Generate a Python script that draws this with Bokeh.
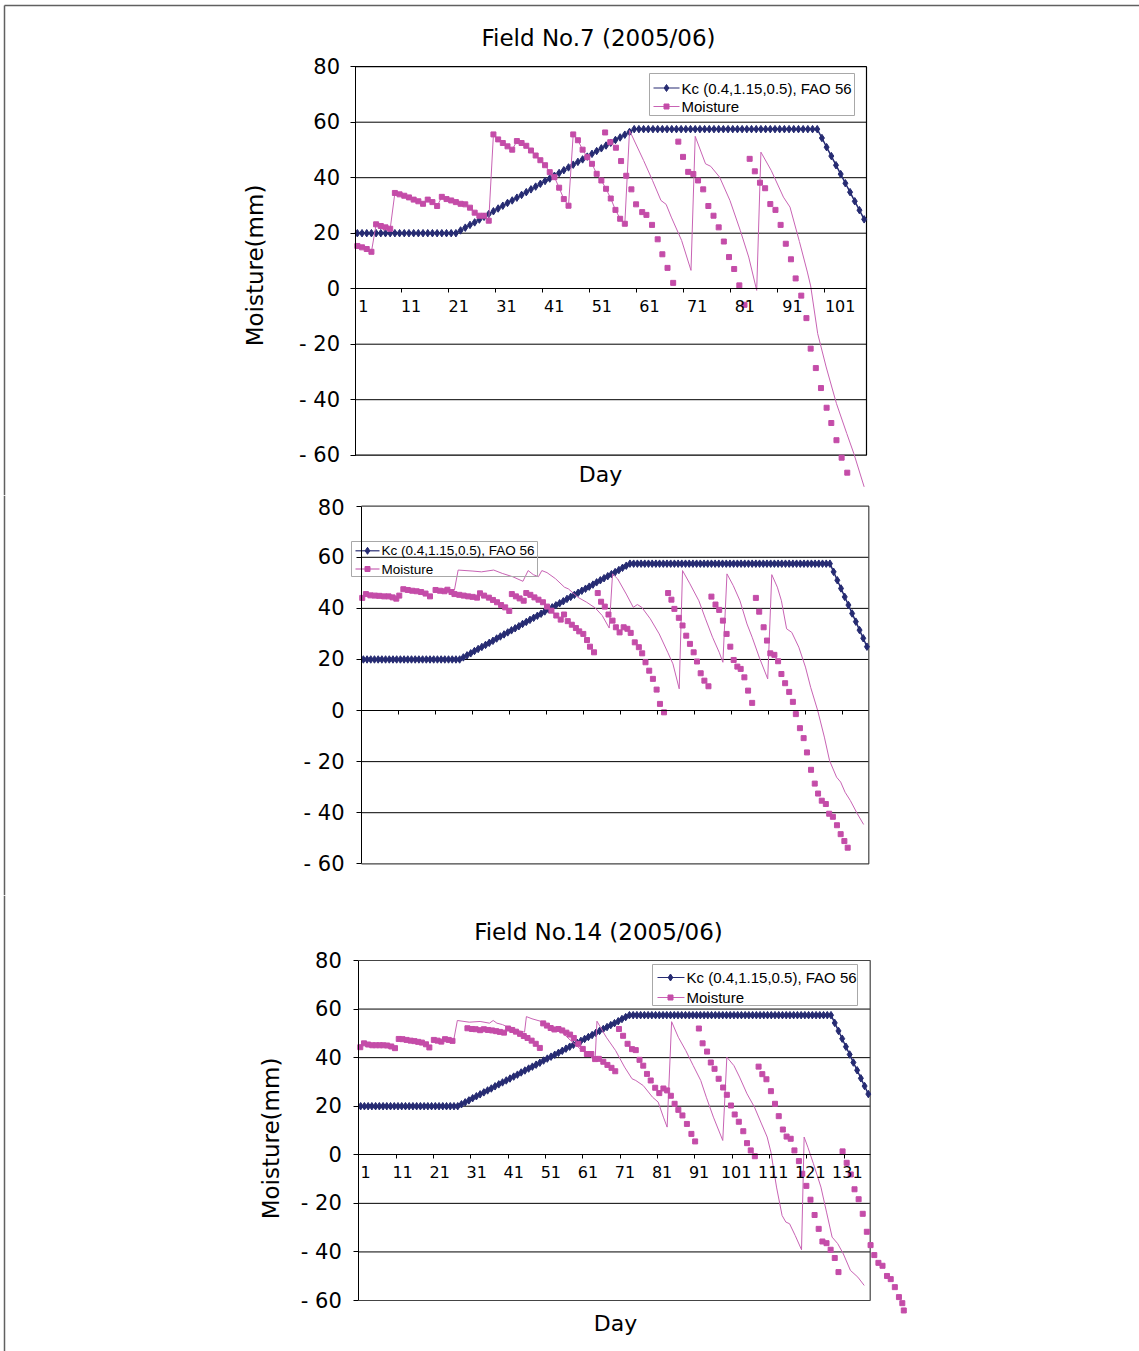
from bokeh.plotting import figure
from bokeh.layouts import column
from bokeh.models import LinearAxis, FixedTicker, Range1d
from bokeh.core.properties import value
from bokeh.embed import file_html
from bokeh.resources import INLINE

# ---------------- data ----------------
y_ticks = [-60, -40, -20, 0, 20, 40, 60, 80]
y_tick_labels = ["- 60", "- 40", "- 20", "0", "20", "40", "60", "80"]
grid_values = [60, 40, 20, -20, -40]
x_labels_field7 = [1, 11, 21, 31, 41, 51, 61, 71, 81, 91, 101]
x_labels_field14 = [1, 11, 21, 31, 41, 51, 61, 71, 81, 91, 101, 111, 121, 131]
legend_labels = ["Kc (0.4,1.15,0.5), FAO 56", "Moisture"]
title_field7 = "Field No.7 (2005/06)"
title_field14 = "Field No.14 (2005/06)"
y_title = "Moisture(mm)"
x_title = "Day"

kc_field7 = [
    20.0, 20.0, 20.0, 20.0, 20.0, 20.0, 20.0, 20.0, 20.0, 20.0,
    20.0, 20.0, 20.0, 20.0, 20.0, 20.0, 20.0, 20.0, 20.0, 20.0,
    20.0, 20.0, 21.0, 22.0, 23.0, 23.9, 24.9, 25.9, 26.9, 27.9,
    28.9, 29.9, 30.9, 31.8, 32.8, 33.8, 34.8, 35.8, 36.8, 37.8,
    38.8, 39.7, 40.7, 41.7, 42.7, 43.7, 44.7, 45.7, 46.6, 47.6,
    48.6, 49.6, 50.6, 51.6, 52.6, 53.6, 54.5, 55.5, 56.5, 57.5,
    57.5, 57.5, 57.5, 57.5, 57.5, 57.5, 57.5, 57.5, 57.5, 57.5,
    57.5, 57.5, 57.5, 57.5, 57.5, 57.5, 57.5, 57.5, 57.5, 57.5,
    57.5, 57.5, 57.5, 57.5, 57.5, 57.5, 57.5, 57.5, 57.5, 57.5,
    57.5, 57.5, 57.5, 57.5, 57.5, 57.5, 57.5, 57.5, 57.5, 54.3,
    51.0, 47.8, 44.5, 41.3, 38.0, 34.8, 31.5, 28.3, 25.0]

kc_field14 = [
    20.0, 20.0, 20.0, 20.0, 20.0, 20.0, 20.0, 20.0, 20.0, 20.0,
    20.0, 20.0, 20.0, 20.0, 20.0, 20.0, 20.0, 20.0, 20.0, 20.0,
    20.0, 20.0, 20.0, 20.0, 20.0, 20.0, 20.0, 20.8, 21.6, 22.4,
    23.3, 24.1, 24.9, 25.7, 26.5, 27.3, 28.2, 29.0, 29.8, 30.6,
    31.4, 32.2, 33.0, 33.9, 34.7, 35.5, 36.3, 37.1, 37.9, 38.8,
    39.6, 40.4, 41.2, 42.0, 42.8, 43.7, 44.5, 45.3, 46.1, 46.9,
    47.7, 48.5, 49.3, 50.2, 51.0, 51.8, 52.6, 53.4, 54.2, 55.0,
    55.9, 56.7, 57.5, 57.5, 57.5, 57.5, 57.5, 57.5, 57.5, 57.5,
    57.5, 57.5, 57.5, 57.5, 57.5, 57.5, 57.5, 57.5, 57.5, 57.5,
    57.5, 57.5, 57.5, 57.5, 57.5, 57.5, 57.5, 57.5, 57.5, 57.5,
    57.5, 57.5, 57.5, 57.5, 57.5, 57.5, 57.5, 57.5, 57.5, 57.5,
    57.5, 57.5, 57.5, 57.5, 57.5, 57.5, 57.5, 57.5, 57.5, 57.5,
    57.5, 57.5, 57.5, 57.5, 57.5, 57.5, 57.5, 54.3, 51.0, 47.8,
    44.5, 41.3, 38.0, 34.8, 31.5, 28.3, 25.0]

# Field 7: moisture, daily part (line with markers), days 1..58
f7_daily_vals = [
    15.4, 14.9, 14.3, 13.3, 23.2, 22.6, 22.1, 21.6, 34.5, 34.0,
    33.5, 32.9, 32.1, 31.5, 30.6, 32.1, 31.2, 29.8, 33.1, 32.3,
    31.8, 31.2, 30.6, 30.4, 29.2, 27.4, 26.3, 26.3, 24.5, 55.6,
    53.8, 52.5, 51.3, 50.1, 53.2, 52.5, 51.5, 49.8, 48.0, 46.3,
    44.5, 42.0, 40.2, 36.4, 32.3, 29.9, 55.6, 53.5, 50.1, 47.4,
    45.0, 41.4, 39.0, 36.0, 32.5, 28.4, 25.2, 23.4]
f7_daily_days = list(range(1, 59))
# Field 7: continuation of the thin line
f7_tail_days = [59.0, 62.0, 63.9, 65.7, 66.8, 67.9, 70.1, 72.1, 73.0, 75.2,
                76.3, 78.2, 80.4, 82.6, 84.4, 86.1, 87.0, 89.2, 91.8, 93.2,
                95.2, 96.9, 97.6, 99.1, 100.9, 103.1, 105.3, 106.8, 109.0]
f7_tail_vals = [57.0, 46.2, 39.0, 31.8, 30.4, 25.8, 17.4, 6.6, 54.9, 45.0,
                44.1, 40.2, 31.8, 21.0, 11.4, -0.6, 49.2, 42.6, 33.0, 29.4,
                17.0, 6.0, 1.0, -16.2, -28.2, -41.4, -52.2, -59.4, -71.4]
# Field 7: separate marker-only moisture points
f7_pts_days = [53.8, 54.9, 56.1, 57.2, 58.3, 59.4, 60.4, 61.7, 62.6, 63.8,
               65.0, 66.0, 67.1, 68.3, 69.4, 70.4, 71.5, 72.6, 73.6, 74.7,
               75.8, 76.9, 78.0, 79.1, 80.2, 81.3, 82.4, 83.5, 84.6, 85.7,
               86.8, 87.9, 89.0, 90.1, 91.2, 92.3, 93.4, 94.4, 95.6, 96.7,
               97.6, 98.7, 99.8, 101.0, 102.0, 103.1, 104.2, 105.4]
f7_pts_vals = [56.3, 52.8, 50.8, 46.0, 40.7, 35.8, 30.4, 27.6, 26.6, 23.0,
               17.8, 12.4, 7.5, 2.1, 53.0, 47.5, 42.1, 41.3, 39.0, 35.8,
               29.8, 26.3, 22.1, 17.0, 11.4, 7.1, 1.2, -5.8, 46.8, 42.3,
               38.2, 36.2, 30.5, 28.4, 23.0, 16.2, 10.6, 3.7, -2.5, -10.6,
               -21.6, -28.6, -35.8, -42.9, -48.4, -54.6, -60.9, -66.3]

# Middle chart: markers
mid_pts_days = [
    0.7, 1.7, 2.9, 4.1, 5.3, 6.6, 7.8, 8.9, 9.9, 10.7,
    11.8, 13.0, 14.2, 15.4, 16.6, 17.8, 19.0, 20.5, 21.7, 22.9,
    23.7, 24.8, 25.6, 26.9, 28.1, 29.3, 30.5, 31.7, 32.5, 33.6,
    34.9, 36.0, 37.1, 38.2, 39.3, 40.4,
    41.1, 42.2, 43.2, 44.3, 45.0, 46.1, 47.2, 48.3, 49.5, 50.6,
    51.8, 53.1, 54.3, 55.2, 56.2, 57.3, 58.4, 59.3, 60.4, 61.4,
    62.2, 63.3,
    64.3, 65.2, 66.2, 67.2, 68.3, 69.2, 70.2, 71.3, 72.3, 73.2,
    74.3, 75.4, 76.3, 77.2, 78.2, 79.2, 80.2, 81.1, 82.2,
    83.3, 84.2, 85.0, 86.2, 87.2, 88.2, 89.2, 90.2, 91.1, 92.1, 93.1, 94.2,
    95.0, 96.1, 97.1, 98.1, 99.1, 100.1, 101.0, 102.0, 102.9, 103.9, 104.9, 106.0,
    107.0, 107.9, 109.1, 110.0, 110.9, 112.0, 113.0, 113.9, 114.9, 116.0,
    117.0, 117.8, 118.9, 119.9, 120.8, 121.9, 122.9, 123.8, 124.8, 125.9,
    126.8, 127.8, 128.9, 129.9, 130.9, 131.8]
mid_pts_vals = [
    44.1, 45.6, 45.1, 45.0, 44.9, 44.7, 44.7, 44.3, 43.8, 45.0,
    47.5, 47.2, 46.9, 46.7, 46.4, 45.8, 44.7, 47.2, 46.9, 46.7,
    47.3, 46.4, 45.6, 45.3, 45.0, 44.7, 44.5, 44.2, 45.9, 45.0,
    44.2, 43.3, 42.4, 41.3, 40.4, 39.0,
    45.6, 44.7, 43.9, 43.0, 46.0, 45.3, 44.3, 43.4, 42.4, 40.7,
    39.1, 37.2, 35.6, 37.6, 35.0, 33.6, 32.3, 31.0, 30.0, 27.6,
    25.0, 22.8,
    46.0, 42.6, 40.7, 37.6, 35.2, 32.6, 30.6, 32.6, 32.0, 30.4,
    26.7, 24.8, 22.4, 18.9, 15.6, 12.4, 8.2, 2.6, -0.7,
    46.0, 43.4, 39.8, 36.3, 33.3, 29.3, 26.1, 22.8, 19.2, 14.6, 11.7, 9.5,
    44.6, 41.5, 39.4, 35.2, 30.0, 25.0, 19.8, 17.2, 16.3, 13.0, 7.8, 3.0,
    44.1, 38.7, 32.6, 27.4, 22.4, 21.8, 19.3, 14.3, 10.7, 7.3,
    3.4, -1.4, -6.9, -10.8, -16.4, -23.2, -28.6, -32.5, -35.3, -36.6,
    -40.4, -41.6, -44.9, -48.4, -51.1, -53.7]
# Middle chart: thin line
mid_line_days = [
    25.6, 26.6, 30.6, 32.9, 36.2, 38.5, 41.3, 44.1, 45.5, 46.9,
    48.3, 49.2, 50.6, 52.9, 55.3, 56.4, 59.0, 61.3, 63.6, 65.5,
    67.4, 68.3, 69.7, 72.0, 73.9, 75.0, 76.2, 78.5, 80.9, 83.2,
    84.6, 86.3, 87.2, 89.2, 91.6, 93.4, 95.3, 97.1, 98.1, 99.2,
    100.9, 102.7, 104.6, 106.0, 107.9, 110.2, 111.3, 112.8, 113.9, 115.3,
    116.7, 118.6, 120.4, 121.8, 123.7, 125.5, 126.9, 128.8, 129.9, 131.1,
    132.5, 134.4, 136.1]
mid_line_vals = [
    47.2, 55.0, 54.6, 54.3, 55.0, 53.7, 52.4, 50.6, 54.8, 53.2,
    52.4, 54.8, 54.0, 51.6, 48.3, 47.6, 44.3, 42.4, 40.2, 37.2,
    32.3, 53.5, 51.5, 45.6, 40.4, 41.5, 40.4, 35.9, 30.0, 22.8,
    18.3, 8.5, 54.8, 49.6, 43.0, 35.9, 28.7, 22.8, 18.9, 53.5,
    48.9, 43.0, 33.9, 28.7, 20.9, 12.4, 53.2, 48.3, 43.0, 32.0,
    30.6, 24.8, 17.0, 9.1, 0.0, -10.4, -19.6, -26.1, -28.0, -32.0,
    -35.2, -40.4, -44.6]

# Field 14: markers
f14_pts_days = [
    0.9, 1.9, 3.0, 4.1, 5.1, 6.1, 7.0, 8.1, 9.2, 10.2,
    11.2, 12.2, 13.3, 14.4, 15.4, 16.4, 17.4, 18.5, 19.4, 20.6,
    21.6, 22.6, 23.6, 24.6, 25.6,
    29.6, 30.8, 31.8, 33.0, 34.0, 35.1, 36.2, 37.3, 38.3, 39.4,
    40.5, 41.6, 42.6, 43.7, 44.7, 45.7, 46.8, 47.9, 49.0,
    49.9, 50.9, 51.9, 52.9, 54.0, 55.0, 56.1, 57.1, 58.1, 59.3,
    60.5, 61.6, 62.8, 63.8, 64.8, 66.0, 67.1, 68.2, 69.2,
    70.2, 71.3, 72.5, 73.7, 74.7, 75.7, 76.7, 77.7, 78.7, 79.9,
    81.0, 82.1, 83.1, 84.1, 85.1, 86.1, 87.2, 88.4, 89.6, 90.6,
    91.6, 92.6, 93.8, 94.8, 95.8, 96.9, 98.1, 99.1, 100.2, 101.2,
    102.3, 103.5, 104.5, 105.5, 106.6,
    107.6, 108.6, 109.7, 110.9, 112.0, 113.0, 114.1, 115.1, 116.2, 117.2,
    118.4, 119.3, 120.4, 121.5, 122.6, 123.7, 124.7, 125.8, 126.9, 128.0, 129.0,
    130.1, 131.2, 132.3, 133.3, 134.4, 135.5, 136.6, 137.6, 138.6, 139.7,
    140.8, 142.0, 143.0, 144.1, 145.2, 146.1, 146.5]
f14_pts_vals = [
    44.3, 45.9, 45.4, 45.1, 45.1, 45.1, 45.1, 45.0, 44.6, 43.9,
    47.7, 47.6, 47.3, 47.0, 46.8, 46.5, 46.2, 45.5, 44.2, 47.3,
    47.0, 46.6, 47.6, 47.3, 46.9,
    52.1, 51.8, 51.7, 51.3, 51.7, 51.4, 51.2, 50.9, 50.6, 50.3,
    52.0, 51.4, 50.7, 49.8, 48.9, 48.1, 47.0, 45.7, 44.0,
    54.1, 53.2, 52.2, 51.6, 51.8, 51.2, 50.3, 49.5, 48.1, 45.7,
    43.6, 41.5, 41.5, 39.4, 39.5, 38.3, 37.0, 35.8, 34.4,
    51.8, 49.0, 45.7, 43.5, 43.1, 39.1, 36.7, 33.3, 30.6, 27.6,
    25.4, 27.3, 26.5, 24.3, 21.0, 18.5, 16.2, 12.7, 8.6, 5.5,
    52.0, 45.9, 42.5, 38.0, 35.4, 31.3, 27.7, 24.7, 20.3, 16.6,
    13.6, 9.7, 4.8, 1.8, -0.6,
    36.3, 33.2, 31.1, 26.2, 21.0, 15.9, 10.4, 7.5, 6.6, 1.8,
    -2.6, -7.8, -12.8, -18.5, -24.8, -30.5, -35.7, -36.4, -39.1, -42.5, -48.3,
    1.4, -3.3, -8.1, -14.2, -18.3, -24.3, -31.7, -37.2, -41.3, -44.5,
    -45.7, -49.9, -51.2, -54.5, -58.6, -61.1, -64.1]
# Field 14: thin line
f14_line_days = [
    25.9, 26.9, 30.1, 33.0, 35.5, 36.5, 37.5, 39.0, 41.0, 43.0,
    44.9, 45.4, 46.9, 49.4, 52.4, 54.9, 57.3, 59.8, 61.8, 63.8,
    64.3, 66.8, 69.3, 71.7, 73.7, 74.7, 76.7, 79.2, 80.7, 82.1,
    83.1, 84.3, 86.1, 88.1, 90.1, 92.1, 93.6, 95.5, 98.0, 99.1,
    101.0, 102.5, 104.5, 106.5, 108.4, 109.9, 110.9, 112.4, 113.9, 114.9,
    115.9, 117.4, 119.1, 119.8, 120.8, 122.3, 124.3, 125.8, 127.3, 128.8,
    130.3, 132.2, 134.2, 135.9]
f14_line_vals = [
    47.0, 55.3, 54.6, 54.9, 54.2, 55.3, 54.2, 53.6, 52.2, 51.2,
    50.5, 56.9, 56.0, 54.9, 52.8, 50.5, 47.0, 43.6, 41.5, 38.8,
    55.0, 48.4, 42.9, 36.1, 31.3, 30.6, 28.5, 23.7, 21.7, 15.5,
    11.4, 54.8, 48.4, 42.9, 36.7, 30.6, 23.7, 15.5, 5.9, 40.2,
    36.7, 32.0, 25.1, 19.6, 12.7, 7.3, 1.1, -13.3, -25.0, -27.7,
    -28.4, -33.2, -39.1, 7.3, 3.1, -3.7, -13.3, -23.6, -33.9, -36.6,
    -40.8, -47.6, -50.4, -53.8]

# ---------------- style ----------------
W = 1139
FONT = "DejaVu Sans"
LEG_FONT = "Liberation Sans"
KC_COLOR = "#262b72"
MK_COLOR = "#c44ca8"
LN_COLOR = "#c863b4"
PAGE_LINE = "#606060"


def make_panel(H, T, X0, X1, N, Yt, Yb, kc, segs_line, pts, border_color,
               ylab_standoff, ylab_size, xlabels=None, lab_c0=None, lab_sp=None,
               legend=None, title=None, ytitle_xy=None, day_xy=None, top_frame=False):
    ppd = (X1 - X0) / N
    ppv = (Yb - Yt) / 140.0
    Y0 = Yt + 80 * ppv

    def fx(X):
        return 0.5 + (X - X0) / ppd

    def fy(Y):
        return (Y0 - Y) / ppv

    p = figure(width=W, height=H, x_range=Range1d(fx(0), fx(W)),
               y_range=Range1d(fy(T + H), fy(T)), output_backend="svg",
               toolbar_location=None, x_axis_location=None, y_axis_location=None,
               min_border=0, outline_line_color=None,
               background_fill_color="white", border_fill_color="white")
    p.grid.visible = False

    # page frame lines
    p.line([fx(4), fx(4)], [fy(max(T, 5)), fy(T + H + 2)], line_color=PAGE_LINE, line_width=1.5)
    if top_frame:
        p.line([fx(4), fx(W)], [fy(5), fy(5)], line_color=PAGE_LINE, line_width=1.5)

    # gridlines and plot box
    n = len(grid_values)
    p.segment(x0=[0.5] * n, x1=[N + 0.5] * n, y0=grid_values, y1=grid_values,
              line_color="black", line_width=1)
    p.line([0.5, N + 0.5, N + 0.5, 0.5], [80, 80, -60, -60],
           line_color=border_color, line_width=1.2)

    # y axis
    yax = LinearAxis(fixed_location=0.5, bounds=(-60, 80),
                     ticker=FixedTicker(ticks=y_ticks),
                     major_label_overrides={t: s for t, s in zip(y_ticks, y_tick_labels)},
                     axis_line_color="black", axis_line_width=1,
                     major_tick_line_color="black", major_tick_out=5, major_tick_in=0,
                     minor_tick_line_color=None, major_label_standoff=ylab_standoff,
                     major_label_text_font=FONT, major_label_text_font_size=ylab_size,
                     major_label_text_color="black")
    p.add_layout(yax, "left")

    # x axis at zero: tick marks at category boundaries
    bticks = [0.5 + 10 * k for k in range(int(N // 10) + 1)]
    xax = LinearAxis(fixed_location=0, bounds=(0.5, N + 0.5),
                     ticker=FixedTicker(ticks=bticks),
                     major_label_overrides={t: "" for t in bticks},
                     axis_line_color="black", axis_line_width=1,
                     major_tick_line_color="black", major_tick_out=4, major_tick_in=0,
                     minor_tick_line_color=None, major_label_text_font_size="1px")
    p.add_layout(xax, "below")

    if xlabels is not None:
        def lab(d):
            return 1 + (d - lab_c0) * 10.0 / lab_sp
        p.extra_x_ranges = {"lab": Range1d(lab(fx(0)), lab(fx(W)))}
        xl = LinearAxis(x_range_name="lab", fixed_location=0,
                        ticker=FixedTicker(ticks=xlabels),
                        major_label_overrides={v: str(v) for v in xlabels},
                        axis_line_color=None, major_tick_line_color=None,
                        major_tick_out=0, major_tick_in=0, minor_tick_line_color=None,
                        major_label_standoff=11, major_label_text_font=FONT,
                        major_label_text_font_size="16px", major_label_text_color="black")
        p.add_layout(xl, "below")

    # Kc series
    kc_days = list(range(1, N + 1))
    p.line(kc_days, kc, line_color=KC_COLOR, line_width=1.5)
    p.scatter(kc_days, kc, marker="diamond", size=7.5, fill_color=KC_COLOR, line_color=KC_COLOR)

    # moisture
    for (ld, lv) in segs_line:
        p.line(ld, lv, line_color=LN_COLOR, line_width=1)
    for (md, mv) in pts:
        p.scatter(md, mv, marker="square", size=5, fill_color=MK_COLOR, line_color=MK_COLOR)

    # legend (drawn as glyphs)
    if legend is not None:
        (bx0, by0, bx1, by1), rows, (sx0, sx1, smk), tx, fsize = legend
        p.quad(left=[fx(bx0)], right=[fx(bx1)], top=[fy(by0)], bottom=[fy(by1)],
               fill_color=None, line_color="#a8a8a8", line_width=1)
        for i, (col, mk) in enumerate([(KC_COLOR, "diamond"), (MK_COLOR, "square")]):
            yy = fy(rows[i])
            p.line([fx(sx0), fx(sx1)], [yy, yy], line_color=col if i == 0 else LN_COLOR,
                   line_width=1.2)
            p.scatter([fx(smk)], [yy], marker=mk, size=7 if i == 0 else 5,
                      fill_color=col, line_color=col)
        p.text(x=[fx(tx)] * 2, y=[fy(r) for r in rows], text=legend_labels,
               text_font=value(LEG_FONT), text_font_size=fsize, text_align="left",
               text_baseline="middle", text_color="black")

    if title is not None:
        txt, (tx_, ty_) = title
        p.text(x=[fx(tx_)], y=[fy(ty_)], text=[txt], text_font=value(FONT),
               text_font_size="23px", text_align="center", text_baseline="middle",
               text_color="black")
    if ytitle_xy is not None:
        p.text(x=[fx(ytitle_xy[0])], y=[fy(ytitle_xy[1])], text=[y_title], angle=1.5707963,
               text_font=value(FONT), text_font_size="23px", text_align="center",
               text_baseline="middle", text_color="black")
    if day_xy is not None:
        p.text(x=[fx(day_xy[0])], y=[fy(day_xy[1])], text=[x_title], text_font=value(FONT),
               text_font_size="22px", text_align="center", text_baseline="middle",
               text_color="black")
    return p


p1 = make_panel(
    H=495, T=0, X0=354.5, X1=866.0, N=109, Yt=66.2, Yb=454.7, kc=kc_field7,
    segs_line=[(f7_daily_days + f7_tail_days, f7_daily_vals + f7_tail_vals)],
    pts=[(f7_daily_days, f7_daily_vals), (f7_pts_days, f7_pts_vals)],
    border_color="black", ylab_standoff=10, ylab_size="21px",
    xlabels=x_labels_field7, lab_c0=2.3, lab_sp=10.16,
    legend=((649, 73, 854, 115), (87.5, 106.0), (653, 679, 666), 681, "15px"),
    title=(title_field7, (598, 37)), ytitle_xy=(254, 265), day_xy=(600, 474),
    top_frame=True)

p2 = make_panel(
    H=400, T=495, X0=361.0, X1=868.3, N=137, Yt=505.7, Yb=863.3, kc=kc_field14,
    segs_line=[(mid_line_days, mid_line_vals)],
    pts=[(mid_pts_days, mid_pts_vals)],
    border_color="#444444", ylab_standoff=12, ylab_size="21px",
    legend=((351, 541, 537, 576), (550.3, 568.5), (355, 379, 367), 381, "13.5px"))

p3 = make_panel(
    H=456, T=895, X0=358.3, X1=869.7, N=137, Yt=960.0, Yb=1300.0, kc=kc_field14,
    segs_line=[(f14_line_days, f14_line_vals)],
    pts=[(f14_pts_days, f14_pts_vals)],
    border_color="#444444", ylab_standoff=12, ylab_size="21px",
    xlabels=x_labels_field14, lab_c0=2.3, lab_sp=9.93,
    legend=((652, 964, 857, 1005), (977.0, 997.0), (657, 684, 670), 686, "15px"),
    title=(title_field14, (598, 931)), ytitle_xy=(270, 1138), day_xy=(615, 1323))

layout = column(p1, p2, p3, spacing=0)
open("out.html", "w").write(file_html(layout, INLINE))
